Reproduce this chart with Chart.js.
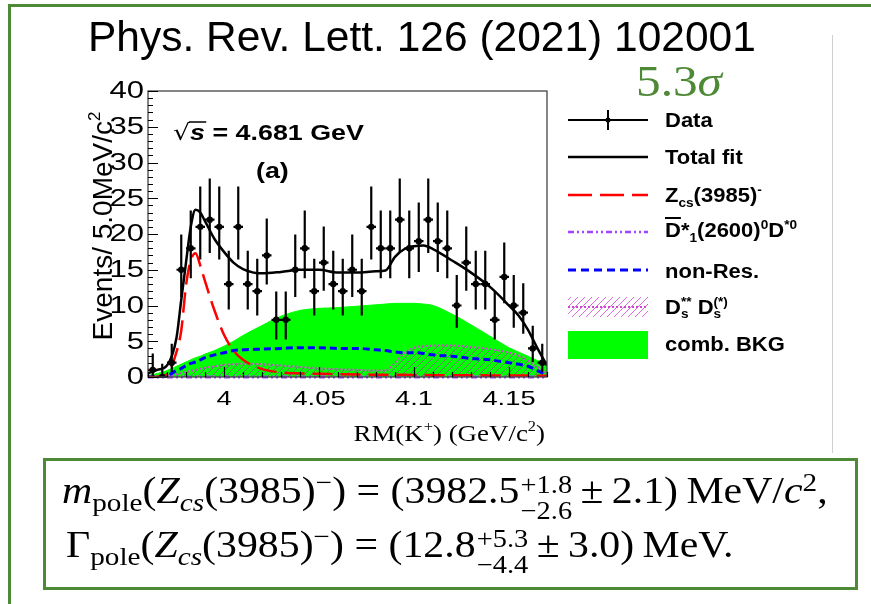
<!DOCTYPE html>
<html>
<head>
<meta charset="utf-8">
<script src="https://cdn.jsdelivr.net/npm/chart.js@4.4.1/dist/chart.umd.min.js"></script>
<style>
html,body{margin:0;padding:0;background:#fff;}
#wrap{position:relative;width:871px;height:604px;overflow:hidden;background:#fff;}
#c{position:absolute;left:0;top:0;}
.abs{position:absolute;white-space:nowrap;line-height:1;}
#slide{position:absolute;left:8px;top:4px;width:900px;height:700px;border-top:3px solid #4e8a36;border-left:3px solid #4e8a36;box-sizing:border-box;}
#vline{position:absolute;left:832px;top:35px;width:1px;height:418px;background:#cfcfcf;}
#title{left:88px;top:16px;font-family:"Liberation Sans",Arial,sans-serif;font-size:42px;color:#000;transform-origin:0 0;transform:scaleX(1.012);}
#sig{left:636px;top:60px;font-family:"Liberation Serif",serif;font-size:44px;color:#4e8a36;transform-origin:0 0;transform:scaleX(1.12);}
#fbox{position:absolute;left:43px;top:458px;width:815px;height:132px;border:3px solid #4e8a36;box-sizing:border-box;}
.fl{font-family:"Liberation Serif",serif;font-size:37px;color:#000;transform-origin:0 0;transform:scaleX(1.13);}
.fl sub,.fl sup{font-size:0.7em;line-height:0;}
.fl sub{vertical-align:-0.3em;}
.fl sup{vertical-align:0.45em;}
.st{display:inline-block;vertical-align:-0.62em;font-size:0.68em;line-height:1.02;margin-left:1px;}
.st span{display:block;}
.leg{left:665px;font-family:"Liberation Sans",Arial,sans-serif;font-weight:bold;font-size:20px;transform-origin:0 50%;transform:scaleX(1.1);}
.leg sub,.leg sup{font-size:0.62em;line-height:0;}
.ov{text-decoration:overline;}
.ss{display:inline-block;vertical-align:-0.3em;font-size:0.62em;line-height:0.95;}
.ss span{display:block;}
</style>
</head>
<body>
<div id="wrap">
  <canvas id="c" width="871" height="604"></canvas>
  <div id="slide"></div>
  <div id="vline"></div>
  <div class="abs" id="title">Phys. Rev. Lett. 126 (2021) 102001</div>
  <div class="abs" id="sig">5.3<i>σ</i></div>

  <div class="abs leg" style="top:110px">Data</div>
  <div class="abs leg" style="top:147px">Total fit</div>
  <div class="abs leg" style="top:185px">Z<sub>cs</sub>(3985)<sup>-</sup></div>
  <div class="abs leg" style="top:220px"><span class="ov">D</span>*<sub>1</sub>(2600)<sup>0</sup>D<sup>*0</sup></div>
  <div class="abs leg" style="top:261px">non-Res.</div>
  <div class="abs leg" style="top:297px">D<span class="ss"><span>**</span><span>s</span></span> D<span class="ss"><span>(*)</span><span>s</span></span></div>
  <div class="abs leg" style="top:334px">comb. BKG</div>

  <div id="fbox"></div>
  <div class="abs fl" id="f1" style="left:62px;top:472px"><i>m</i><sub>pole</sub>(<i>Z</i><sub><i>cs</i></sub>(3985)<sup>−</sup>) = (3982.5<span class="st"><span>+1.8</span><span>−2.6</span></span>&thinsp;±&thinsp;2.1)&thinsp;MeV/<i>c</i><sup>2</sup>,</div>
  <div class="abs fl" id="f2" style="left:66px;top:526px">Γ<sub>pole</sub>(<i>Z</i><sub><i>cs</i></sub>(3985)<sup>−</sup>) = (12.8<span class="st"><span>+5.3</span><span>−4.4</span></span>&thinsp;±&thinsp;3.0)&thinsp;MeV.</div>
</div>
<script>
// ---------------- data ----------------
const binCenters = [3.9625, 3.9675, 3.9725, 3.9775, 3.9825, 3.9875, 3.9925, 3.9975, 4.0025, 4.0075,
  4.0125, 4.0175, 4.0225, 4.0275, 4.0325, 4.0375, 4.0425, 4.0475, 4.0525, 4.0575,
  4.0625, 4.0675, 4.0725, 4.0775, 4.0825, 4.0875, 4.0925, 4.0975, 4.1025, 4.1075,
  4.1125, 4.1175, 4.1225, 4.1275, 4.1325, 4.1375, 4.1425, 4.1475, 4.1525, 4.1575,
  4.1625, 4.1675];
const counts = [1, 0, 2, 15, 18, 21, 22, 21, 13, 21,
  13, 12, 17, 8, 8, 15, 18, 12, 16, 13,
  12, 15, 12, 21, 18, 18, 22, 18, 19, 22,
  19, 18, 10, 16, 13, 13, 8, 14, 10, 9,
  4, 2];
const errHigh = [2.30, 1.84, 2.64, 4.93, 5.30, 5.64, 5.75, 5.64, 4.67, 5.64,
  4.67, 4.54, 5.18, 3.95, 3.95, 4.93, 5.30, 4.54, 5.06, 4.67,
  4.54, 4.93, 4.54, 5.64, 5.30, 5.30, 5.75, 5.30, 5.41, 5.75,
  5.41, 5.30, 4.26, 5.06, 4.67, 4.67, 3.95, 4.80, 4.26, 4.11,
  3.16, 2.64];
const errLow = [0.83, 0.00, 1.29, 3.82, 4.20, 4.55, 4.66, 4.55, 3.55, 4.55,
  3.55, 3.41, 4.07, 2.77, 2.77, 3.82, 4.20, 3.41, 3.95, 3.55,
  3.41, 3.82, 3.41, 4.55, 4.20, 4.20, 4.66, 4.20, 4.32, 4.66,
  4.32, 4.20, 3.11, 3.95, 3.55, 3.55, 2.77, 3.69, 3.11, 2.94,
  1.91, 1.29];
const binHalfWidth = 0.0025;

const curveX = [3.96, 3.965, 3.97, 3.975, 3.9775, 3.98, 3.9825, 3.985, 3.9875, 3.99,
  3.995, 4.0, 4.005, 4.01, 4.02, 4.03, 4.04, 4.05, 4.06, 4.07,
  4.08, 4.085, 4.09, 4.095, 4.1, 4.105, 4.11, 4.12, 4.13, 4.14,
  4.15, 4.155, 4.16, 4.165, 4.17];
const totalFit = [0.5, 1.0, 1.6, 5.5, 10.8, 16.0, 21.0, 23.4, 23.0, 21.8,
  19.3, 17.5, 16.0, 15.1, 14.5, 14.7, 15.0, 15.0, 14.6, 14.6,
  14.8, 14.9, 16.8, 17.9, 18.3, 18.4, 17.9, 16.3, 14.6, 12.6,
  10.0, 8.6, 6.6, 4.0, 1.6];
const zcsCurve = [0.0, 0.05, 0.4, 3.5, 6.5, 12.8, 16.3, 17.3, 15.6, 13.4,
  9.3, 5.9, 3.7, 2.4, 1.1, 0.65, 0.5, 0.45, 0.4, 0.35,
  0.3, 0.3, 0.3, 0.3, 0.28, 0.27, 0.26, 0.25, 0.24, 0.22,
  0.2, 0.2, 0.2, 0.18, 0.17];
const d1Curve = [0, 0, 0, 0, 0, 0, 0, 0, 0, 0,
  0, 0, 0, 0, 0, 0, 0, 0, 0, 0,
  0, 0, 0, 0, 0, 0, 0, 0, 0, 0,
  0, 0, 0, 0, 0];
const nonResCurve = [0.0, 0.05, 0.2, 0.9, 1.2, 1.6, 1.9, 2.1, 2.4, 2.7,
  3.1, 3.4, 3.7, 3.8, 3.9, 4.0, 4.1, 4.1, 4.0, 4.0,
  3.8, 3.7, 3.5, 3.4, 3.4, 3.3, 3.1, 2.9, 2.6, 2.4,
  2.0, 1.8, 1.5, 0.9, 0.2];
const dsdsCurve = [0.0, 0.05, 0.15, 0.4, 0.55, 0.7, 0.85, 1.0, 1.15, 1.3,
  1.5, 1.7, 1.8, 1.85, 1.8, 1.6, 1.4, 1.2, 1.1, 1.0,
  0.9, 0.9, 2.0, 3.4, 4.1, 4.3, 4.4, 4.4, 4.2, 3.9,
  3.4, 3.0, 2.3, 1.4, 0.6];
const combBkgCurve = [0.2, 0.5, 0.9, 1.5, 1.8, 2.1, 2.4, 2.7, 2.9, 3.2,
  3.7, 4.3, 5.0, 5.8, 7.2, 8.5, 9.3, 9.6, 9.7, 9.9,
  10.1, 10.2, 10.3, 10.3, 10.3, 10.2, 10.0, 8.8, 7.3, 5.7,
  4.1, 3.5, 2.9, 2.3, 1.9];

const xRange = [3.96, 4.17];
const yRange = [0, 40];
const xTickValues = [4, 4.05, 4.1, 4.15];
const xTickLabels = ['4', '4.05', '4.1', '4.15'];
const yTickValues = [0, 5, 10, 15, 20, 25, 30, 35, 40];
const yTickLabels = ['0', '5', '10', '15', '20', '25', '30', '35', '40'];
const xMinorStep = 0.01;
const yMinorStep = 1;

// ---------------- styles ----------------
const GREEN = 'rgb(0,255,0)';
const RED = 'rgb(255,0,0)';
const BLUE = 'rgb(0,0,255)';
const PURPLE = 'rgb(160,70,255)';
const MAGENTA = 'rgb(210,70,210)';

function makeHatch() {
  const p = document.createElement('canvas');
  p.width = 7; p.height = 7;
  const g = p.getContext('2d');
  g.strokeStyle = 'rgba(150,60,150,0.75)';
  g.lineWidth = 1;
  g.beginPath();
  g.moveTo(-1, 8); g.lineTo(8, -1);
  g.moveTo(-1, 1); g.lineTo(1, -1);
  g.moveTo(6, 8); g.lineTo(8, 6);
  g.stroke();
  return g.createPattern(p, 'repeat');
}
const hatch = makeHatch();

function makeLegendHatch() {
  const p = document.createElement('canvas');
  p.width = 7; p.height = 7;
  const g = p.getContext('2d');
  g.strokeStyle = 'rgba(220,90,220,0.9)';
  g.lineWidth = 1;
  g.beginPath();
  g.moveTo(-1, 8); g.lineTo(8, -1);
  g.moveTo(-1, 1); g.lineTo(1, -1);
  g.moveTo(6, 8); g.lineTo(8, 6);
  g.stroke();
  return g.createPattern(p, 'repeat');
}
const legHatch = makeLegendHatch();

const pts = (xs, ys) => xs.map((x, i) => ({x: x, y: ys[i]}));

function drawRich(ctx, segs, x, y, align) {
  let w = 0;
  for (const s of segs) { ctx.font = s.f; w += ctx.measureText(s.t).width; }
  let cx = align === 'right' ? x - w : (align === 'center' ? x - w / 2 : x);
  ctx.textAlign = 'left';
  for (const s of segs) {
    ctx.font = s.f;
    ctx.fillText(s.t, cx, y + (s.dy || 0));
    cx += ctx.measureText(s.t).width;
  }
  return w;
}

const rootPlugin = {
  id: 'rootStyle',
  afterDatasetsDraw(chart) {
    const ctx = chart.ctx;
    const xs = chart.scales.x, ys = chart.scales.y;
    const a = chart.chartArea;
    ctx.save();
    // error bars
    ctx.strokeStyle = '#000';
    ctx.lineWidth = 2.2;
    for (let i = 0; i < counts.length; i++) {
      const px = xs.getPixelForValue(binCenters[i]);
      const py = ys.getPixelForValue(counts[i]);
      const top = ys.getPixelForValue(counts[i] + errHigh[i]);
      const bot = ys.getPixelForValue(Math.max(counts[i] - errLow[i], 0));
      const l = xs.getPixelForValue(binCenters[i] - binHalfWidth);
      const r = xs.getPixelForValue(binCenters[i] + binHalfWidth);
      ctx.beginPath();
      ctx.moveTo(px, top); ctx.lineTo(px, bot);
      ctx.moveTo(l, py); ctx.lineTo(r, py);
      ctx.stroke();
    }
    // frame
    ctx.strokeStyle = '#444';
    ctx.lineWidth = 1.3;
    ctx.strokeRect(a.left, a.top, a.right - a.left, a.bottom - a.top);
    // ticks
    ctx.strokeStyle = '#000';
    ctx.lineWidth = 1.2;
    ctx.beginPath();
    for (let v = yRange[0]; v <= yRange[1] + 1e-9; v += yMinorStep) {
      const py = Math.round(ys.getPixelForValue(v)) + 0.5;
      const major = yTickValues.some(t => Math.abs(t - v) < 1e-6);
      ctx.moveTo(a.left, py); ctx.lineTo(a.left + (major ? 10 : 5), py);
    }
    for (let v = xRange[0]; v <= xRange[1] + 1e-9; v += xMinorStep) {
      const px = Math.round(xs.getPixelForValue(v)) + 0.5;
      const major = xTickValues.some(t => Math.abs(t - v) < 1e-6);
      ctx.moveTo(px, a.bottom); ctx.lineTo(px, a.bottom - (major ? 10 : 5));
    }
    ctx.stroke();
    // tick labels
    ctx.fillStyle = '#000';
    ctx.textBaseline = 'middle';
    ctx.font = '23px "Liberation Sans", Arial, sans-serif';
    yTickValues.forEach((v, i) => {
      const py = ys.getPixelForValue(v);
      ctx.save();
      ctx.translate(a.left - 4, py + 1);
      ctx.scale(1.35, 1);
      ctx.textAlign = 'right';
      ctx.fillText(yTickLabels[i], 0, 0);
      ctx.restore();
    });
    ctx.font = '21px "Liberation Sans", Arial, sans-serif';
    xTickValues.forEach((v, i) => {
      const px = xs.getPixelForValue(v);
      ctx.save();
      ctx.translate(px, a.bottom + 22);
      ctx.scale(1.3, 1);
      ctx.textAlign = 'center';
      ctx.fillText(xTickLabels[i], 0, 0);
      ctx.restore();
    });
    // axis titles
    ctx.textBaseline = 'alphabetic';
    ctx.save();
    ctx.translate(a.right - 2, 441);
    ctx.scale(1.17, 1);
    const sf = '23px "Liberation Serif", serif', ssf = '14px "Liberation Serif", serif';
    drawRich(ctx, [{t: 'RM(K', f: sf}, {t: '+', f: ssf, dy: -10}, {t: ') (GeV/c', f: sf}, {t: '2', f: ssf, dy: -10}, {t: ')', f: sf}], 0, 0, 'right');
    ctx.restore();
    ctx.save();
    ctx.translate(112, 226);
    ctx.rotate(-Math.PI / 2);
    const af = '28px "Liberation Sans", Arial, sans-serif', asf = '17px "Liberation Sans", Arial, sans-serif';
    drawRich(ctx, [{t: 'Events/ 5.0MeV/c', f: af}, {t: '2', f: asf, dy: -12}], 0, 0, 'center');
    ctx.restore();
    // in-plot annotation
    ctx.save();
    ctx.translate(173, 140);
    ctx.scale(1.22, 1);
    const bf = 'bold 22px "Liberation Sans", Arial, sans-serif';
    ctx.font = '22px "DejaVu Sans", sans-serif';
    ctx.fillText('\u221A', 0, 0);
    const rw = ctx.measureText('\u221A').width;
    ctx.font = 'bold italic 22px "Liberation Sans", Arial, sans-serif';
    ctx.fillText('s', rw, 0);
    const sw = ctx.measureText('s').width;
    ctx.lineWidth = 1.5;
    ctx.beginPath(); ctx.moveTo(rw - 1, -18); ctx.lineTo(rw + sw + 1, -18); ctx.stroke();
    ctx.font = bf;
    ctx.fillText(' = 4.681 GeV', rw + sw, 0);
    ctx.restore();
    ctx.save();
    ctx.translate(256, 178);
    ctx.scale(1.22, 1);
    ctx.font = 'bold 22px "Liberation Sans", Arial, sans-serif';
    ctx.fillText('(a)', 0, 0);
    ctx.restore();
    ctx.restore();
  },
  afterDraw(chart) {
    const ctx = chart.ctx;
    const L = 568, R = 648;
    ctx.save();
    ctx.lineCap = 'butt';
    // Data
    ctx.strokeStyle = '#000'; ctx.lineWidth = 2;
    ctx.beginPath(); ctx.moveTo(L, 120); ctx.lineTo(R, 120); ctx.moveTo(608, 110); ctx.lineTo(608, 130); ctx.stroke();
    ctx.fillStyle = '#000'; ctx.beginPath(); ctx.arc(608, 120, 2.5, 0, Math.PI * 2); ctx.fill();
    // Total fit
    ctx.lineWidth = 2.5;
    ctx.beginPath(); ctx.moveTo(L, 157); ctx.lineTo(R, 157); ctx.stroke();
    // Zcs
    ctx.strokeStyle = RED; ctx.setLineDash([24, 8]);
    ctx.beginPath(); ctx.moveTo(L, 195); ctx.lineTo(R, 195); ctx.stroke();
    // D1*
    ctx.strokeStyle = PURPLE; ctx.setLineDash([6, 3, 2, 3, 2, 3]);
    ctx.beginPath(); ctx.moveTo(L, 232); ctx.lineTo(R, 232); ctx.stroke();
    // non-Res
    ctx.strokeStyle = BLUE; ctx.lineWidth = 3; ctx.setLineDash([8, 5]);
    ctx.beginPath(); ctx.moveTo(L, 270); ctx.lineTo(R, 270); ctx.stroke();
    // Ds Ds
    ctx.setLineDash([]);
    ctx.fillStyle = legHatch; ctx.fillRect(L, 297, R - L, 20);
    ctx.strokeStyle = MAGENTA; ctx.lineWidth = 2; ctx.setLineDash([2, 2]);
    ctx.beginPath(); ctx.moveTo(L, 307); ctx.lineTo(R, 307); ctx.stroke();
    ctx.setLineDash([]);
    // comb BKG
    ctx.fillStyle = GREEN; ctx.fillRect(L, 331, R - L, 28);
    ctx.restore();
  }
};

const chart = new Chart(document.getElementById('c'), {
  type: 'line',
  data: {
    datasets: [
      {label: 'Data', data: pts(binCenters, counts), showLine: false, pointRadius: 3.2, pointBackgroundColor: '#000', pointBorderColor: '#000', borderWidth: 0, order: 0},
      {label: 'Total fit', data: pts(curveX, totalFit), borderColor: '#000', borderWidth: 2.5, pointRadius: 0, cubicInterpolationMode: 'monotone', fill: false, order: 1},
      {label: 'Zcs(3985)-', data: pts(curveX, zcsCurve), borderColor: RED, borderWidth: 2.5, borderDash: [20, 8], pointRadius: 0, cubicInterpolationMode: 'monotone', fill: false, order: 2},
      {label: 'non-Res.', data: pts(curveX, nonResCurve), borderColor: BLUE, borderWidth: 3, borderDash: [7, 4], pointRadius: 0, cubicInterpolationMode: 'monotone', fill: false, order: 3},
      {label: 'D1*(2600)0D*0', data: pts(curveX, d1Curve), borderColor: PURPLE, borderWidth: 3, borderDash: [6, 3, 2, 3, 2, 3], pointRadius: 0, fill: false, clip: 6, order: 4},
      {label: 'Ds** Ds(*)', data: pts(curveX, dsdsCurve), borderColor: MAGENTA, borderWidth: 2, borderDash: [2, 2], backgroundColor: hatch, pointRadius: 0, cubicInterpolationMode: 'monotone', fill: 'origin', order: 5},
      {label: 'comb. BKG', data: pts(curveX, combBkgCurve), borderColor: GREEN, borderWidth: 1, backgroundColor: GREEN, pointRadius: 0, cubicInterpolationMode: 'monotone', fill: 'origin', order: 6}
    ]
  },
  options: {
    responsive: false,
    animation: false,
    devicePixelRatio: 1,
    layout: {padding: {left: 148, right: 324, top: 91, bottom: 227}},
    scales: {
      x: {type: 'linear', min: xRange[0], max: xRange[1], display: false},
      y: {type: 'linear', min: yRange[0], max: yRange[1], display: false}
    },
    plugins: {legend: {display: false}, tooltip: {enabled: false}}
  },
  plugins: [rootPlugin]
});
</script>
</body>
</html>
